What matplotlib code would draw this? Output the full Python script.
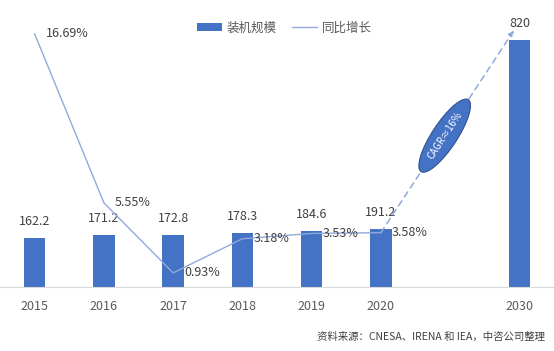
import matplotlib.pyplot as plt
from matplotlib.patches import Ellipse, Patch
from matplotlib.lines import Line2D
from matplotlib.transforms import IdentityTransform
import numpy as np

plt.rcParams["font.family"] = ["Noto Sans CJK SC", "DejaVu Sans"]

years = ["2015", "2016", "2017", "2018", "2019", "2020", "2030"]
capacity = [162.2, 171.2, 172.8, 178.3, 184.6, 191.2, 820]
growth_years = ["2015", "2016", "2017", "2018", "2019", "2020"]
growth = [16.69, 5.55, 0.93, 3.18, 3.53, 3.58]

bar_x = [0, 1, 2, 3, 4, 5, 7]
line_x = bar_x[:len(growth)]

bar_color = "#4472c4"
line_color = "#8faadc"
text_color = "#404040"

fig = plt.figure(figsize=(5.54, 3.51), dpi=100)
fig.patch.set_facecolor("white")
ax = fig.add_axes([0, 64 / 351, 1, 267 / 351])
ax2 = ax.twinx()

ax.bar(bar_x, capacity, width=0.31, color=bar_color, zorder=2)
ax.set_xlim(-0.5, 7.5)
ax.set_ylim(0, 887)
ax2.set_ylim(0, 17.6)

for x, v in zip(bar_x, capacity):
    ax.annotate(f"{v:g}", (x, v), xytext=(0, 12), textcoords="offset points",
                ha="center", va="center", fontsize=9, color=text_color)

ax2.plot(line_x, growth, color=line_color, linewidth=1, zorder=3)
for x, v in zip(line_x, growth):
    ax2.annotate(f"{v:.2f}%", (x, v), xytext=(8, 0), textcoords="offset points",
                 ha="left", va="center", fontsize=9, color=text_color)

ax.set_xticks(bar_x)
ax.set_xticklabels(years, fontsize=9, color="#595959")
ax.tick_params(axis="x", length=0, pad=9)
ax.set_yticks([])
ax2.set_yticks([])
for sp in ["top", "left", "right"]:
    ax.spines[sp].set_visible(False)
    ax2.spines[sp].set_visible(False)
ax2.spines["bottom"].set_visible(False)
ax.spines["bottom"].set_color("#d9d9d9")

# dashed CAGR arrow from 2020 growth point to 2030 bar
start = (5, 3.58)
end = (6.92, 852)
ax2.annotate("", xy=end, xycoords=ax.transData, xytext=start, textcoords=ax2.transData,
             arrowprops=dict(arrowstyle="-|>", color=line_color, linestyle=(0, (4, 3)),
                             linewidth=1.1, mutation_scale=8, shrinkA=0, shrinkB=0),
             zorder=4)

p0 = ax2.transData.transform(start)
p1 = ax.transData.transform(end)
center = p0 + 0.48 * (p1 - p0)
angle = np.degrees(np.arctan2(p1[1] - p0[1], p1[0] - p0[0]))
ell = Ellipse(center, width=86, height=25, angle=angle, transform=IdentityTransform(),
              facecolor=bar_color, edgecolor="#2f528f", linewidth=0.8, zorder=5)
ax2.add_artist(ell)
ell.set_clip_on(False)
ax2.text(center[0], center[1], "CAGR≈16%", transform=IdentityTransform(), rotation=angle,
         ha="center", va="center", fontsize=7, color="white", zorder=6,
         rotation_mode="anchor")

handles = [Patch(facecolor=bar_color), Line2D([0], [0], color=line_color, linewidth=1)]
fig.legend(handles, ["装机规模", "同比增长"], loc="center", bbox_to_anchor=(0.513, 0.92),
           ncol=2, frameon=False, fontsize=9, labelcolor="#595959",
           handlelength=2.0, handleheight=0.6, columnspacing=1.2, handletextpad=0.4)

fig.text(0.984, 1 - 337 / 351, "资料来源：CNESA、IRENA 和 IEA，中咨公司整理", ha="right", va="center",
         fontsize=7.5, color=text_color)

fig.savefig("out.png", dpi=100)
